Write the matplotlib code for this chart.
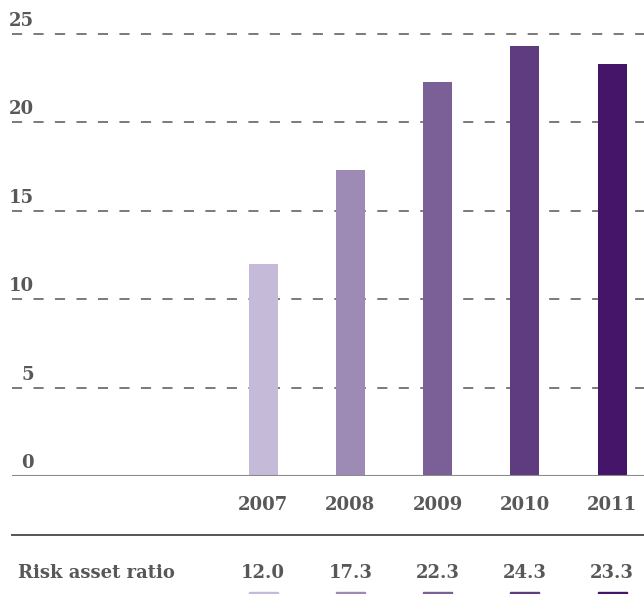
import matplotlib
matplotlib.use("Agg")
import matplotlib.pyplot as plt
from matplotlib.patches import Rectangle
from matplotlib.lines import Line2D
from matplotlib.transforms import blended_transform_factory

years = ["2007", "2008", "2009", "2010", "2011"]
ratio = [12.0, 17.3, 22.3, 24.3, 23.3]
ratio_labels = ["12.0", "17.3", "22.3", "24.3", "23.3"]
yticks = [0, 5, 10, 15, 20, 25]
row_title = "Risk asset ratio"
colors = ["#c5bbd8", "#9d8ab5", "#7a6096", "#5e3c7f", "#441568"]

W, H = 644, 594
text_color = "#585858"
font = dict(family="DejaVu Serif", weight="bold", color=text_color, size=13)

fig = plt.figure(figsize=(W / 100, H / 100), dpi=100)
ax_left, ax_bottom_px = 12, 476
ax = fig.add_axes([ax_left / W, (H - ax_bottom_px) / H, 1 - ax_left / W, ax_bottom_px / H])

# data-space layout: category 0 centred at x=263px, spacing 87.25px
step = 87.25
x0 = (ax_left - 263) / step
x1 = (W - 263) / step
ax.set_xlim(x0, x1)
ymax = 25 + 34 / ((ax_bottom_px - 34) / 25)
ax.set_ylim(0, ymax)

bar_w = 29 / step
xs = list(range(len(years)))
ax.bar(xs, ratio, width=bar_w, color=colors, zorder=3)

# dashed gridlines and baseline
for t in yticks[1:]:
    ax.axhline(t, color="#707070", lw=1.3, dashes=(5.6, 6.3), zorder=1)
ax.axhline(0, color="#8a8a8a", lw=1.5, zorder=4)

for s in ax.spines.values():
    s.set_visible(False)
ax.set_xticks([])
ax.set_yticks([])

# y labels sit just above their gridline, right-aligned
for t in yticks:
    ax.annotate(str(t), xy=(0, t), xycoords=("axes fraction", "data"),
                xytext=(22, 4), textcoords="offset pixels",
                ha="right", va="bottom", **font)

# table below the chart
bt = blended_transform_factory(ax.transData, fig.transFigure)
for i, (yr, lab, c) in enumerate(zip(years, ratio_labels, colors)):
    ax.text(i, (H - 505.5) / H, yr, transform=bt, ha="center", va="center",
            clip_on=False, **font)
    ax.text(i, (H - 572.5) / H, lab, transform=bt, ha="center", va="center",
            clip_on=False, **font)
    ax.add_patch(Rectangle((i - bar_w / 2, 0), bar_w, 2.5 / H, transform=bt,
                           color=c, clip_on=False))

fig.text(18 / W, (H - 572.5) / H, row_title, ha="left", va="center", **font)
fig.add_artist(Line2D([12 / W, 1], [(H - 535) / H] * 2, color="#555555", lw=1.4))

fig.savefig("out.png", dpi=100)
